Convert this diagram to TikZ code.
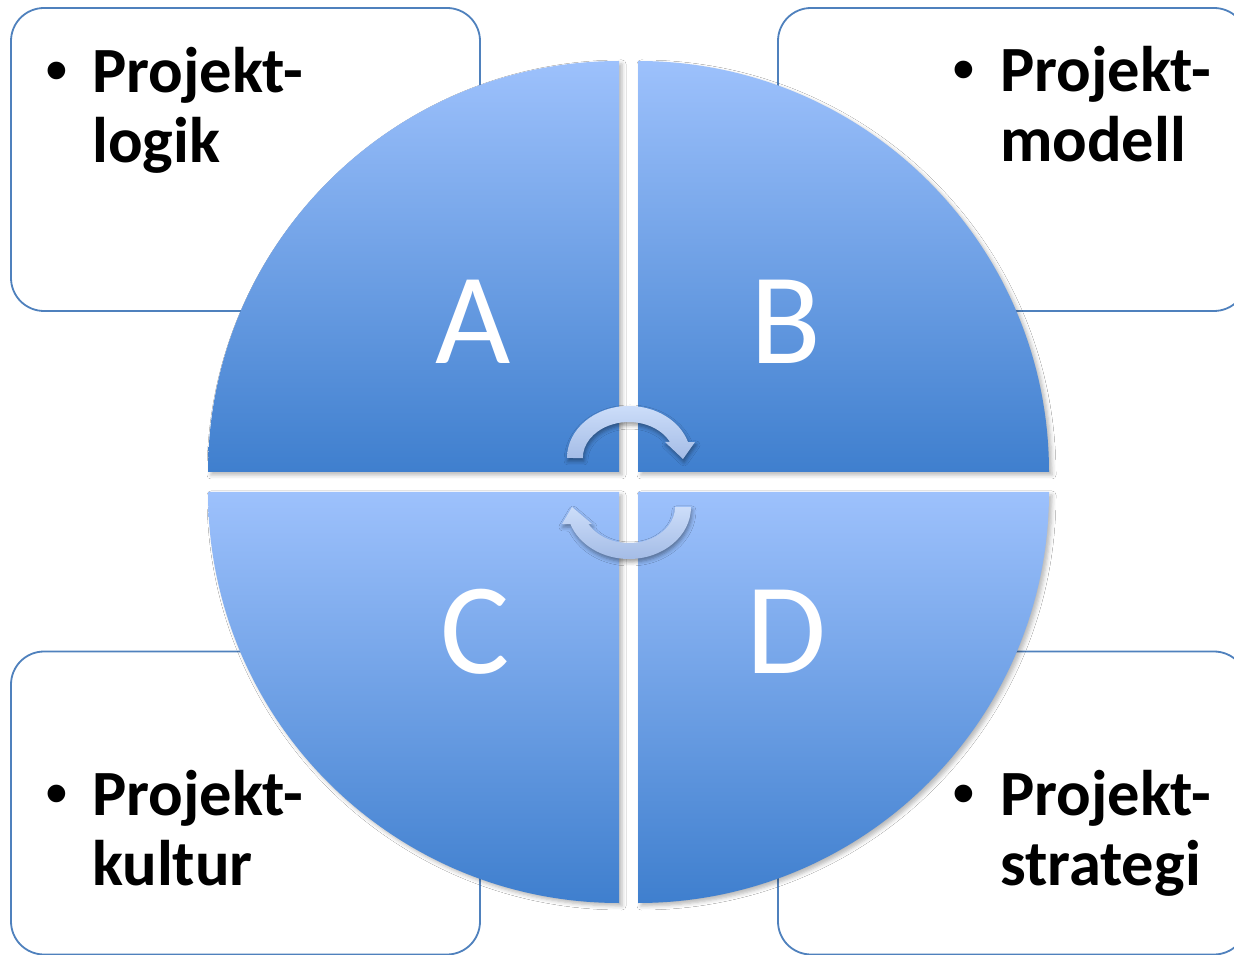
\documentclass[tikz,border=0pt]{standalone}
\usepackage{fontspec}
\setmainfont{Carlito}
\newfontfamily\bulletfont{Liberation Sans}
\usetikzlibrary{shadows.blur}
\definecolor{boxline}{RGB}{79,129,189}
\definecolor{qlight}{RGB}{157,193,252}
\definecolor{qdark}{RGB}{63,127,206}
\definecolor{alight}{RGB}{204,221,249}
\definecolor{adark}{RGB}{164,188,230}
\begin{document}
\begin{tikzpicture}[x=1pt,y=1pt,
  infobox/.style={draw=boxline, line width=1.8pt, fill=white, rounded corners=33pt,
    rectangle, minimum width=469pt, minimum height=303pt, inner sep=0pt},
  quad/.style={top color=qlight, bottom color=qdark, draw=none,
    blur shadow={shadow xshift=3pt, shadow yshift=-3pt, shadow blur radius=4pt, shadow opacity=28}},
  cyc/.style={top color=alight, bottom color=adark, draw=none,
    blur shadow={shadow xshift=1pt, shadow yshift=-3pt, shadow blur radius=4pt, shadow opacity=40}},
  bigletter/.style={font=\fontsize{130}{130}\selectfont, text=white, inner sep=0pt, anchor=base},
  lbl/.style={font=\bfseries\fontsize{64.5}{70}\selectfont, inner sep=0pt, anchor=base west},
  bul/.style={font=\bulletfont\fontsize{65}{70}\selectfont, inner sep=0pt, anchor=base west}]
\useasboundingbox (0,0) rectangle (1234,954);
\fill[white] (0,0) rectangle (1234,954);

% boxes
\node[infobox] (boxA) at (245.5,794.5) {};
\node[infobox] (boxB) at (1012.5,794.5) {};
\node[infobox] (boxC) at (245.5,151) {};
\node[infobox] (boxD) at (1012.5,151) {};

% quadrants
\path[quad] (619,482) -- (208,482) arc[start angle=180, end angle=90, radius=411] -- cycle;
\path[quad] (638,482) -- (638,893) arc[start angle=90, end angle=0, radius=411] -- cycle;
\path[quad] (619,462) -- (208,462) arc[start angle=180, end angle=270, radius=411] -- cycle;
\path[quad] (638,462) -- (638,51) arc[start angle=270, end angle=360, radius=411] -- cycle;

% letters
\node[bigletter] (la) at (473,590) {A};
\node[bigletter] (lb) at (786,590) {B};
\node[bigletter] (lc) at (475,281) {C};
\node[bigletter] (ld) at (786,281) {D};

% cycle arrows
\path[cyc] (567,496) arc[start angle=180, end angle=17.9, x radius=62, y radius=52]
  -- (695,512) -- (683,495) -- (665,512) -- (670,512)
  arc[start angle=26.4, end angle=180, x radius=46, y radius=36] -- cycle;
\path[cyc] (691,447) arc[start angle=0, end angle=-160.9, x radius=62, y radius=52]
  -- (562,430) -- (572,447) -- (592,430) -- (588.5,430)
  arc[start angle=-151.8, end angle=0, x radius=46, y radius=36] -- cycle;

% labels
\node[bul] (ba) at (45,861) {•};
\node[lbl] (ta1) at (92,861) {Projekt-};
\node[lbl] (ta2) at (92,791) {logik};
\node[bul] (bb) at (952,862) {•};
\node[lbl] (tb1) at (1000,862) {Projekt-};
\node[lbl] (tb2) at (1000,792) {modell};
\node[bul] (bc) at (45,139) {•};
\node[lbl] (tc1) at (92,139) {Projekt-};
\node[lbl] (tc2) at (92,69) {kultur};
\node[bul] (bd) at (952,139) {•};
\node[lbl] (td1) at (1000,139) {Projekt-};
\node[lbl] (td2) at (1000,69) {strategi};
\end{tikzpicture}
\end{document}
